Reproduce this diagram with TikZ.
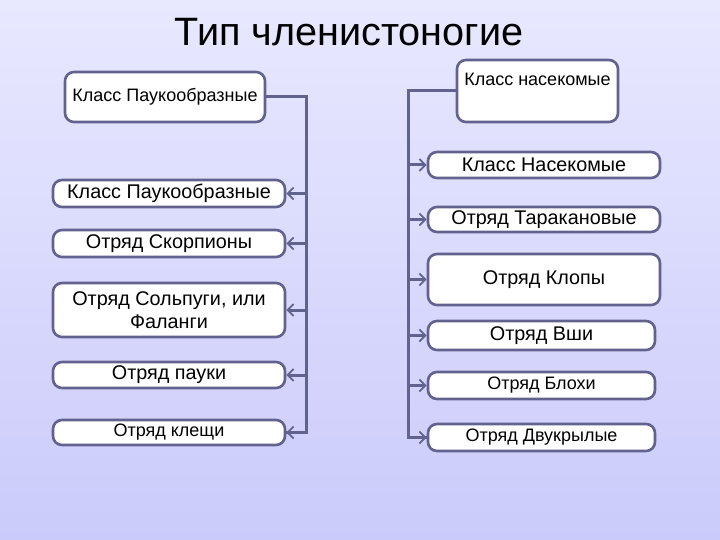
\documentclass[tikz,border=0pt]{standalone}
\usepackage{fontspec}
\setmainfont{Liberation Sans}
\usetikzlibrary{arrows.meta}
\definecolor{framecol}{HTML}{62628F}
\definecolor{bgtop}{HTML}{E8E8FF}
\definecolor{bgbottom}{HTML}{CBCBFB}

\begin{document}
\begin{tikzpicture}[x=1pt,y=-1pt,
   box/.style={draw=framecol,line width=2.6pt,fill=white,rounded corners=9pt,
      align=center,inner sep=2pt,minimum width=232pt},
   bigtext/.style={font=\fontsize{19.8}{23}\selectfont},
   smalltext/.style={font=\fontsize{18}{21}\selectfont},
   link/.style={draw=framecol,line width=3pt},
   arr/.style={link,-{Straight Barb[length=6pt,width=12pt,line width=1.8pt]}}]
\useasboundingbox (0,0) rectangle (720,540);
\shade[top color=bgtop,bottom color=bgbottom] (0,0) rectangle (720,540);

\node (title) at (349,32) {\fontsize{39.6}{44}\selectfont Тип членистоногие};

% arachnids
\node[box,smalltext,minimum width=200pt,minimum height=50pt] (arach) at (165,97) {Класс Паукообразные};
\node[box,bigtext,minimum height=27pt] (arachcls) at (169,193.5) {Класс Паукообразные};
\node[box,bigtext,minimum height=27pt] (scorp) at (169,243.5) {Отряд Скорпионы};
\node[box,bigtext,minimum height=54pt] (solp) at (169,310) {Отряд Сольпуги, или\\Фаланги};
\node[box,bigtext,minimum height=26pt] (spider) at (169,375) {Отряд пауки};
\node[box,smalltext,minimum height=25pt] (tick) at (169,432.5) {Отряд клещи};

% insects
\node[box,smalltext,minimum width=161pt,inner ysep=3pt,text height=23pt,text depth=33pt] (insect) at (537.5,91) {Класс насекомые};
\node[box,bigtext,minimum height=26pt] (insectcls) at (544,165) {Класс Насекомые};
\node[box,bigtext,minimum height=25pt] (roach) at (544,219.5) {Отряд Таракановые};
\node[box,bigtext,minimum height=51pt] (bug) at (544,279.5) {Отряд Клопы};
\node[box,bigtext,minimum width=227pt,minimum height=29pt] (louse) at (541.5,335.5) {Отряд Вши};
\node[box,smalltext,minimum width=227pt,minimum height=27pt] (flea) at (541.5,385.5) {Отряд Блохи};
\node[box,smalltext,minimum width=227pt,minimum height=27pt] (fly) at (541.5,437.5) {Отряд Двукрылые};

% trunks
\coordinate (ltrunk) at (306,97);
\coordinate (rtrunk) at (408,91);
\draw[link] (arach.east) -- (ltrunk) |- (tick.east);
\draw[link] (insect.west) -- (rtrunk) |- (fly.west);
\foreach \n in {arachcls,scorp,solp,spider,tick}
  \draw[arr] (\n.east -| ltrunk) -- (\n.east);
\foreach \n in {insectcls,roach,bug,louse,flea,fly}
  \draw[arr] (\n.west -| rtrunk) -- (\n.west);
\end{tikzpicture}
\end{document}
